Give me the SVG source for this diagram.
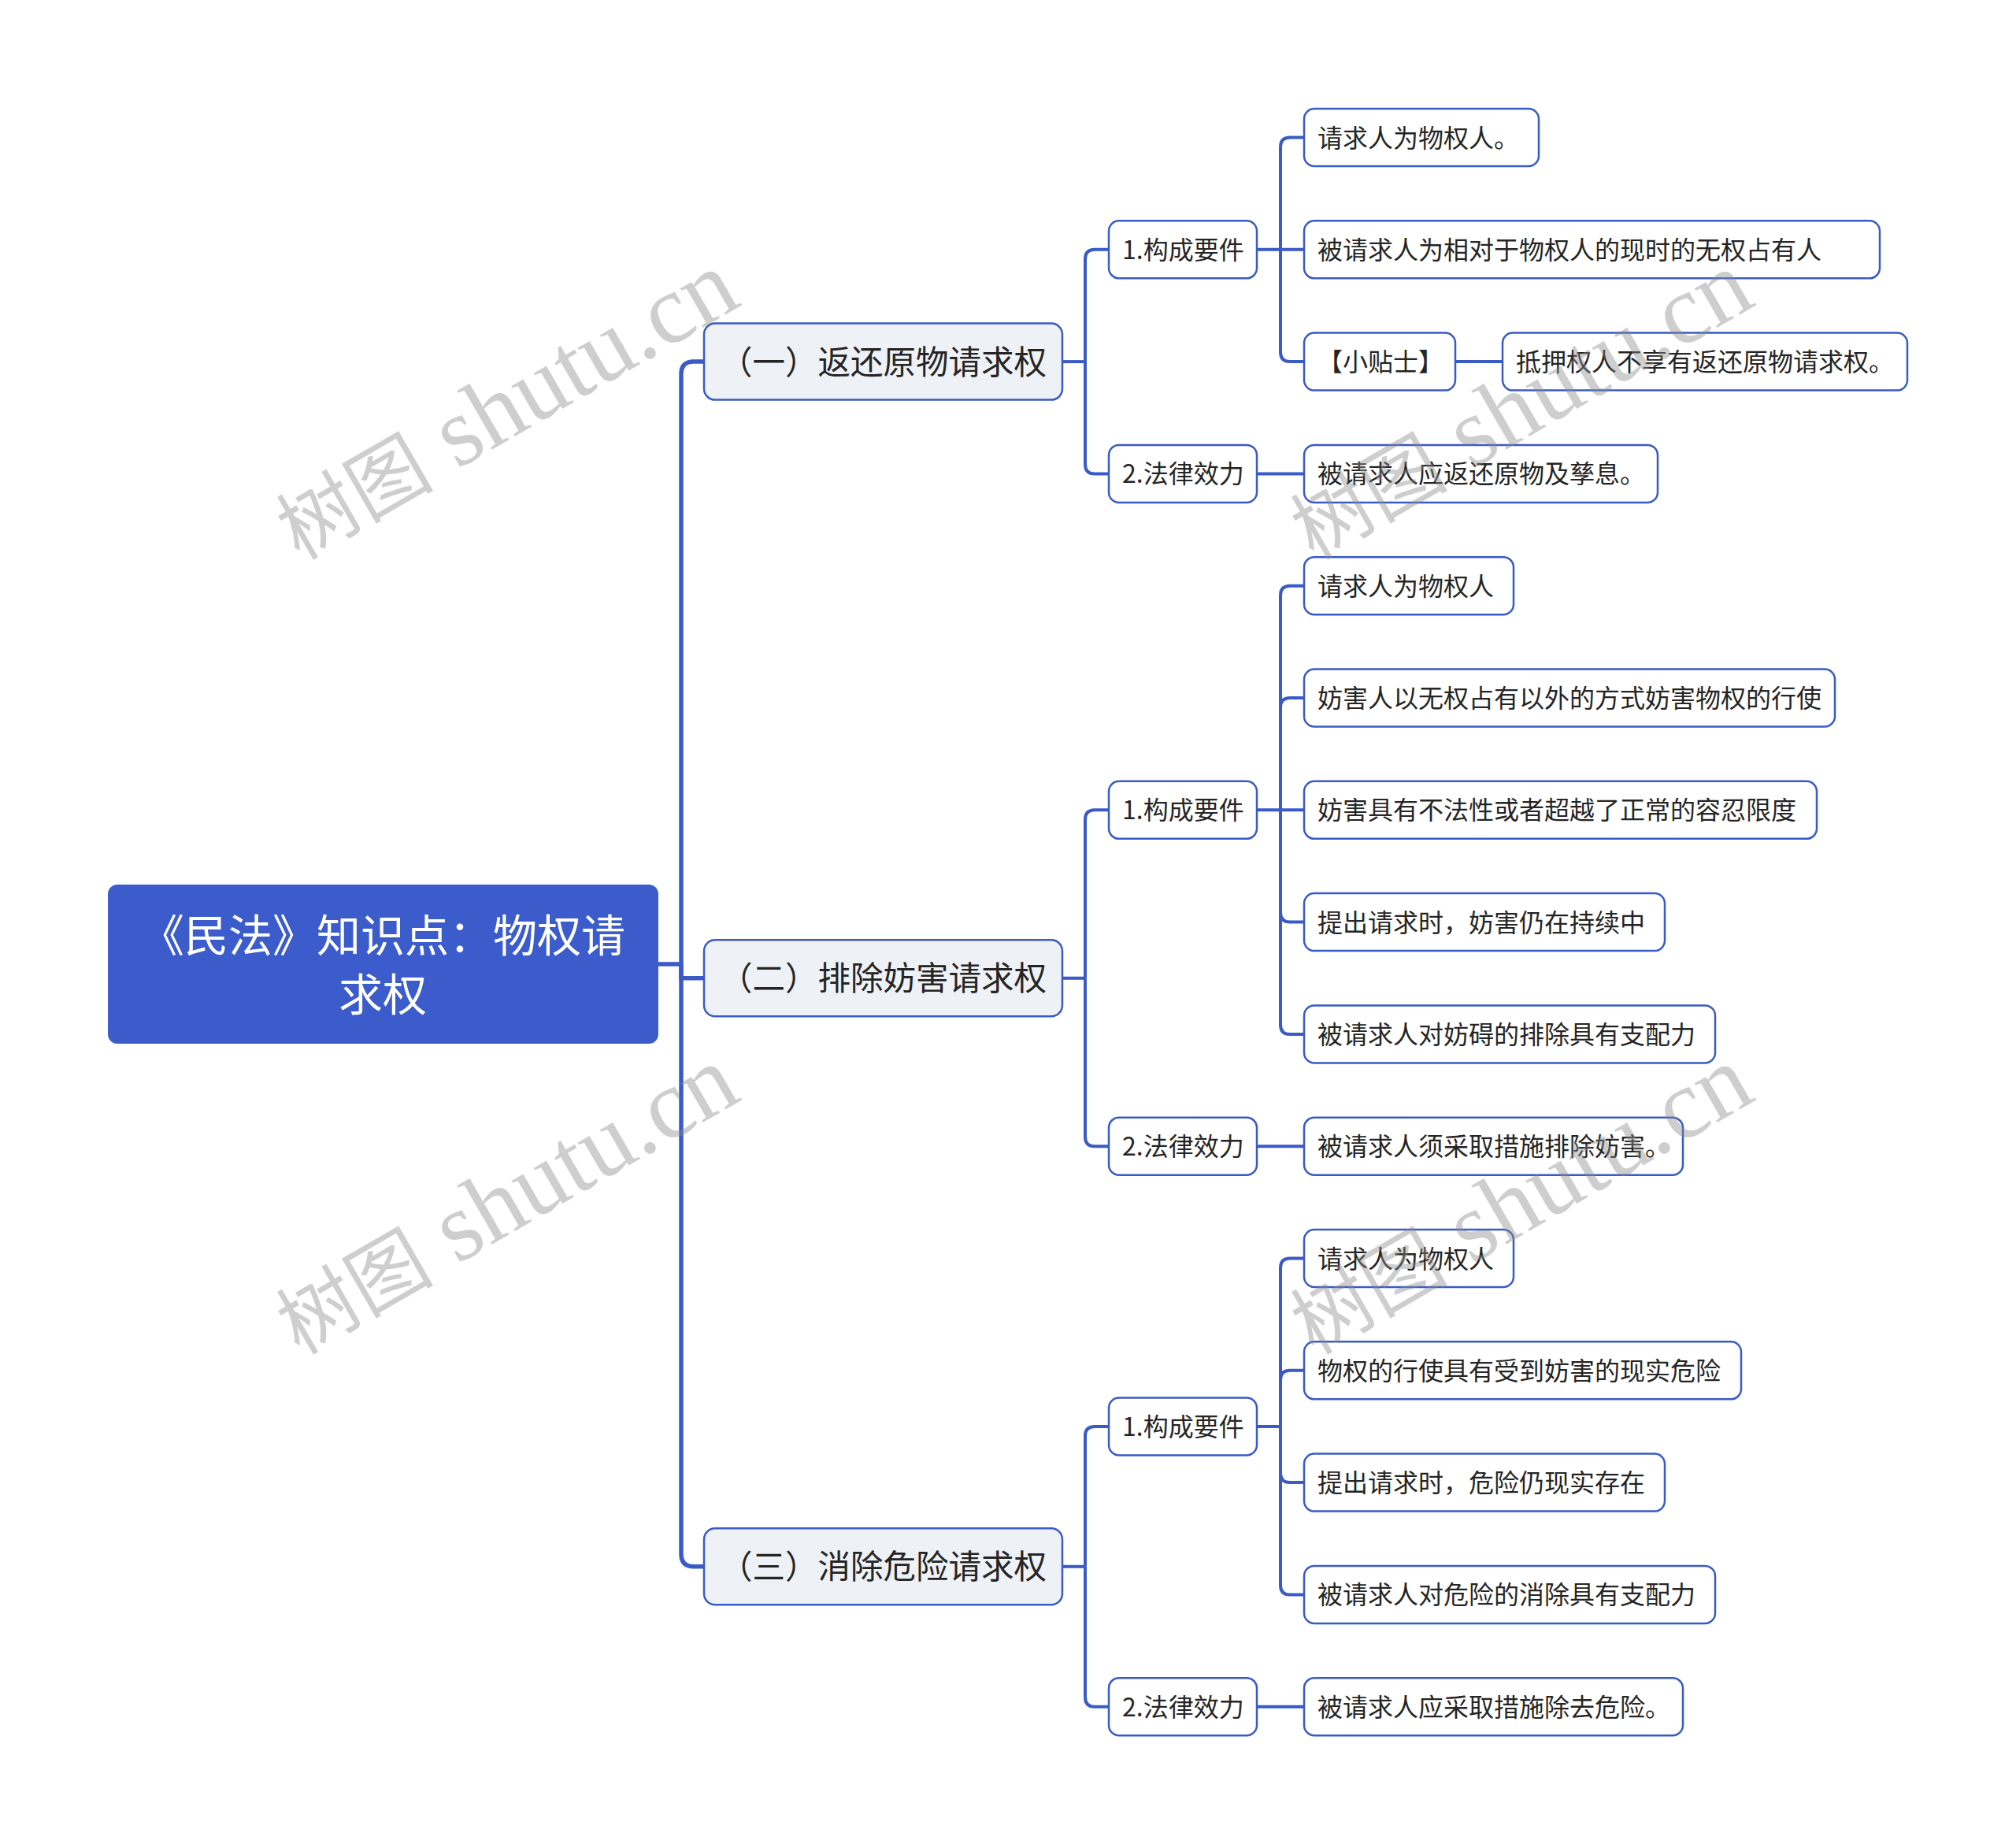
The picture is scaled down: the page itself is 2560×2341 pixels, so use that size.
<svg xmlns="http://www.w3.org/2000/svg" width="2560" height="2341" viewBox="0 0 2560 2341">
<style>
text{font-family:"Noto Sans CJK SC","Noto Sans",sans-serif;fill:#252525}
.root rect{fill:#3C5CCB}
.root text{fill:#ffffff;font-size:56px;text-anchor:middle}
.br rect{fill:#EEF2F6;stroke:#3A5BC5;stroke-width:2.5}
.br text{font-size:41.5px;text-anchor:middle}
.n rect{fill:#ffffff;stroke:#3A5BC5;stroke-width:2.5}
.n text{font-size:32px}
.conn path{fill:none;stroke:#3A5BC5;stroke-width:4;stroke-linecap:butt}
.conn .trunk{stroke-width:5.5}
.wm text{font-family:"Liberation Serif","Noto Sans CJK SC",serif;font-size:125px;fill:#8a8a8a;fill-opacity:0.42}
.wm .cj{font-size:100px}
</style>
<rect width="2560" height="2341" fill="#ffffff"/>
<g id="connectors" class="conn">
<path class="trunk" d="M836 1224 H865"/>
<path class="trunk" d="M865 1224 V475.1 Q865 459.1 881 459.1 H894"/>
<path class="trunk" d="M865 1224 V1241.8 H894"/>
<path class="trunk" d="M865 1224 V1972.8 Q865 1988.8 881 1988.8 H894"/>
<path d="M1349 459.1 H1378"/>
<path d="M1378 459.1 V328.8 Q1378 316.8 1390 316.8 H1408"/>
<path d="M1378 459.1 V589.4 Q1378 601.4 1390 601.4 H1408"/>
<path d="M1349 1241.8 H1378"/>
<path d="M1378 1241.8 V1040.3 Q1378 1028.3 1390 1028.3 H1408"/>
<path d="M1378 1241.8 V1443.2 Q1378 1455.2 1390 1455.2 H1408"/>
<path d="M1349 1988.8 H1378"/>
<path d="M1378 1988.8 V1823 Q1378 1811 1390 1811 H1408"/>
<path d="M1378 1988.8 V2154.7 Q1378 2166.7 1390 2166.7 H1408"/>
<path d="M1596 316.8 H1656"/>
<path d="M1626 316.8 V186.5 Q1626 174.5 1638 174.5 H1656"/>
<path d="M1626 316.8 V447.1 Q1626 459.1 1638 459.1 H1656"/>
<path d="M1596 601.4 H1656"/>
<path d="M1848 459.1 H1908"/>
<path d="M1596 1028.3 H1656"/>
<path d="M1626 1028.3 V755.7 Q1626 743.7 1638 743.7 H1656"/>
<path d="M1626 1028.3 V898 Q1626 886 1638 886 H1656"/>
<path d="M1626 1028.3 V1158.6 Q1626 1170.6 1638 1170.6 H1656"/>
<path d="M1626 1028.3 V1300.9 Q1626 1312.9 1638 1312.9 H1656"/>
<path d="M1596 1455.2 H1656"/>
<path d="M1596 1811 H1626"/>
<path d="M1626 1811 V1609.5 Q1626 1597.5 1638 1597.5 H1656"/>
<path d="M1626 1811 V1751.8 Q1626 1739.8 1638 1739.8 H1656"/>
<path d="M1626 1811 V1870.1 Q1626 1882.1 1638 1882.1 H1656"/>
<path d="M1626 1811 V2012.4 Q1626 2024.4 1638 2024.4 H1656"/>
<path d="M1596 2166.7 H1656"/>
</g>
<g id="root" class="root">
<rect x="137" y="1123" width="699" height="202" rx="12"/>
<text x="486" y="1208">《民法》知识点：物权请</text>
<text x="486" y="1283">求权</text>
</g>
<g id="b1" class="br"><rect x="894" y="410.6" width="455" height="97" rx="14"/><text x="1121.5" y="474.6">（一）返还原物请求权</text></g>
<g id="b2" class="br"><rect x="894" y="1193.3" width="455" height="97" rx="14"/><text x="1121.5" y="1257.3">（二）排除妨害请求权</text></g>
<g id="b3" class="br"><rect x="894" y="1940.3" width="455" height="97" rx="14"/><text x="1121.5" y="2004.3">（三）消除危险请求权</text></g>
<g id="b1-1" class="n"><rect x="1408" y="280.3" width="188" height="73" rx="13"/><text x="1425" y="328.8">1.构成要件</text></g>
<g id="b1-2" class="n"><rect x="1408" y="564.9" width="188" height="73" rx="13"/><text x="1425" y="613.4">2.法律效力</text></g>
<g id="b2-1" class="n"><rect x="1408" y="991.8" width="188" height="73" rx="13"/><text x="1425" y="1040.3">1.构成要件</text></g>
<g id="b2-2" class="n"><rect x="1408" y="1418.7" width="188" height="73" rx="13"/><text x="1425" y="1467.2">2.法律效力</text></g>
<g id="b3-1" class="n"><rect x="1408" y="1774.5" width="188" height="73" rx="13"/><text x="1425" y="1823">1.构成要件</text></g>
<g id="b3-2" class="n"><rect x="1408" y="2130.2" width="188" height="73" rx="13"/><text x="1425" y="2178.7">2.法律效力</text></g>
<g id="l0" class="n"><rect x="1656" y="138" width="298" height="73" rx="13"/><text x="1673" y="186.5">请求人为物权人。</text></g>
<g id="l1" class="n"><rect x="1656" y="280.3" width="731" height="73" rx="13"/><text x="1673" y="328.8">被请求人为相对于物权人的现时的无权占有人</text></g>
<g id="l2" class="n"><rect x="1656" y="422.6" width="192" height="73" rx="13"/><text x="1673" y="471.1">【小贴士】</text></g>
<g id="l2b" class="n"><rect x="1908" y="422.6" width="514" height="73" rx="13"/><text x="1925" y="471.1">抵押权人不享有返还原物请求权。</text></g>
<g id="l3" class="n"><rect x="1656" y="564.9" width="449" height="73" rx="13"/><text x="1673" y="613.4">被请求人应返还原物及孳息。</text></g>
<g id="l4" class="n"><rect x="1656" y="707.2" width="266" height="73" rx="13"/><text x="1673" y="755.7">请求人为物权人</text></g>
<g id="l5" class="n"><rect x="1656" y="849.5" width="674" height="73" rx="13"/><text x="1673" y="898">妨害人以无权占有以外的方式妨害物权的行使</text></g>
<g id="l6" class="n"><rect x="1656" y="991.8" width="651" height="73" rx="13"/><text x="1673" y="1040.3">妨害具有不法性或者超越了正常的容忍限度</text></g>
<g id="l7" class="n"><rect x="1656" y="1134.1" width="458" height="73" rx="13"/><text x="1673" y="1182.6">提出请求时，妨害仍在持续中</text></g>
<g id="l8" class="n"><rect x="1656" y="1276.4" width="522" height="73" rx="13"/><text x="1673" y="1324.9">被请求人对妨碍的排除具有支配力</text></g>
<g id="l9" class="n"><rect x="1656" y="1418.7" width="481" height="73" rx="13"/><text x="1673" y="1467.2">被请求人须采取措施排除妨害。</text></g>
<g id="l10" class="n"><rect x="1656" y="1561" width="266" height="73" rx="13"/><text x="1673" y="1609.5">请求人为物权人</text></g>
<g id="l11" class="n"><rect x="1656" y="1703.3" width="555" height="73" rx="13"/><text x="1673" y="1751.8">物权的行使具有受到妨害的现实危险</text></g>
<g id="l12" class="n"><rect x="1656" y="1845.6" width="458" height="73" rx="13"/><text x="1673" y="1894.1">提出请求时，危险仍现实存在</text></g>
<g id="l13" class="n"><rect x="1656" y="1987.9" width="522" height="73" rx="13"/><text x="1673" y="2036.4">被请求人对危险的消除具有支配力</text></g>
<g id="l14" class="n"><rect x="1656" y="2130.2" width="481" height="73" rx="13"/><text x="1673" y="2178.7">被请求人应采取措施除去危险。</text></g>
<g id="watermark" class="wm">
<text x="380" y="712" transform="rotate(-30 380 712)"><tspan class="cj">树图</tspan> shutu.cn</text>
<text x="1668" y="712" transform="rotate(-30 1668 712)"><tspan class="cj">树图</tspan> shutu.cn</text>
<text x="380" y="1721" transform="rotate(-30 380 1721)"><tspan class="cj">树图</tspan> shutu.cn</text>
<text x="1668" y="1721" transform="rotate(-30 1668 1721)"><tspan class="cj">树图</tspan> shutu.cn</text>
</g>
</svg>
